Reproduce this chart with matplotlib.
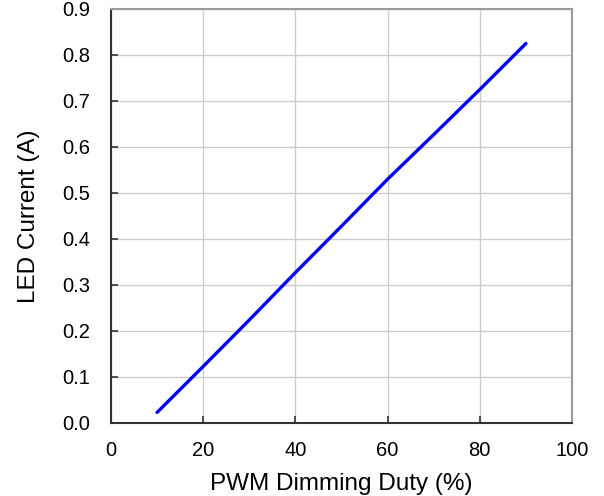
import matplotlib.pyplot as plt

plt.rcParams['font.family'] = ['Liberation Sans', 'DejaVu Sans']

# PWM duty (%) vs LED current (A)
duty = [10, 20, 30, 40, 50, 60, 70, 80, 90]
current = [0.023, 0.123, 0.224, 0.327, 0.428, 0.530, 0.627, 0.725, 0.825]

x_ticks = [0, 20, 40, 60, 80, 100]
y_ticks = [0.0, 0.1, 0.2, 0.3, 0.4, 0.5, 0.6, 0.7, 0.8, 0.9]

fig = plt.figure(figsize=(6.04, 4.96), dpi=100)
ax = fig.add_axes([111 / 604, 73 / 496, 461 / 604, 414 / 496])

ax.plot(duty, current, color='#0000ff', lw=2.4, solid_capstyle='round')

ax.set_xlim(0, 100)
ax.set_ylim(0, 0.9)
ax.set_xticks(x_ticks)
ax.set_yticks(y_ticks)
ax.set_yticklabels(['%.1f' % v for v in y_ticks])
ax.grid(True, color='#cccccc', lw=1.0)
ax.set_axisbelow(True)

ax.tick_params(direction='in', length=5, width=1.2, color='#333333',
               labelsize=14.5, pad=13)
ax.tick_params(axis='y', pad=15)
ax.spines['left'].set_color('#333333')
ax.spines['bottom'].set_color('#333333')
ax.spines['left'].set_linewidth(1.5)
ax.spines['bottom'].set_linewidth(1.5)
ax.spines['top'].set_color('#999999')
ax.spines['right'].set_color('#999999')
ax.spines['top'].set_linewidth(1.5)
ax.spines['right'].set_linewidth(1.5)

ax.set_xlabel('PWM Dimming Duty (%)', fontsize=17.5, labelpad=9)
ax.set_ylabel('LED Current (A)', fontsize=17.5, labelpad=16)

fig.savefig('out.png', dpi=100)
